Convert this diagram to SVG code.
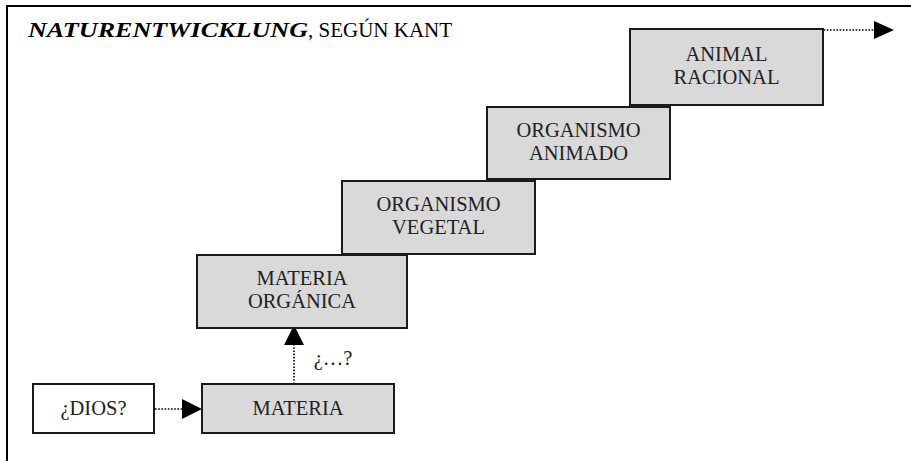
<svg xmlns="http://www.w3.org/2000/svg" width="911" height="461" viewBox="0 0 911 461">
<style>
.box{fill:#d9d9d9;stroke:#1a1a1a;stroke-width:2}
.wbox{fill:#ffffff;stroke:#1a1a1a;stroke-width:2}
.t{font-family:"Liberation Serif","DejaVu Serif",serif;font-size:20.5px;fill:#222;text-anchor:middle}
.dot{stroke:#000;stroke-width:1.6;stroke-dasharray:1.6 1.6;fill:none}
.head{fill:#000}
</style>
<rect width="911" height="461" fill="#fff"/>
<path d="M7,461 V6 H911" fill="none" stroke="#000" stroke-width="2"/>
<g id="title">
<text x="28" y="37" font-family="'Liberation Serif','DejaVu Serif',serif" font-size="21" fill="#000"><tspan font-weight="bold" font-style="italic" textLength="280" lengthAdjust="spacingAndGlyphs">NATURENTWICKLUNG</tspan><tspan>, SEGÚN KANT</tspan></text>
</g>
<g id="connectors">
<line class="dot" x1="798" y1="30" x2="875" y2="30"/>
<polygon class="head" points="874,21 894,30 874,39"/>
<line class="dot" x1="294" y1="384" x2="294" y2="344"/>
<polygon class="head" points="284,345 294,325 304,345"/>
<line class="dot" x1="155" y1="409" x2="183" y2="409"/>
<polygon class="head" points="182,399 202,409 182,419"/>
</g>
<g id="n-animal-racional">
<rect class="box" x="630" y="29" width="193" height="76"/>
<text class="t" x="726.5" y="61">ANIMAL</text>
<text class="t" x="726.5" y="84">RACIONAL</text>
</g>
<g id="n-organismo-animado">
<rect class="box" x="487" y="107" width="183" height="72"/>
<text class="t" x="578.5" y="137">ORGANISMO</text>
<text class="t" x="578.5" y="160">ANIMADO</text>
</g>
<g id="n-organismo-vegetal">
<rect class="box" x="342" y="181" width="193" height="73"/>
<text class="t" x="438.5" y="211">ORGANISMO</text>
<text class="t" x="438.5" y="234">VEGETAL</text>
</g>
<g id="n-materia-organica">
<rect class="box" x="197" y="255" width="210" height="73"/>
<text class="t" x="302" y="285">MATERIA</text>
<text class="t" x="302" y="308">ORGÁNICA</text>
</g>
<g id="n-materia">
<rect class="box" x="202" y="384" width="192" height="49"/>
<text class="t" x="298" y="415">MATERIA</text>
</g>
<g id="n-dios">
<rect class="wbox" x="33" y="384" width="121" height="49"/>
<text class="t" x="93.5" y="415">¿DIOS?</text>
</g>
<g id="label-q">
<text class="t" x="333" y="365" font-size="18">¿…?</text>
</g>
</svg>
